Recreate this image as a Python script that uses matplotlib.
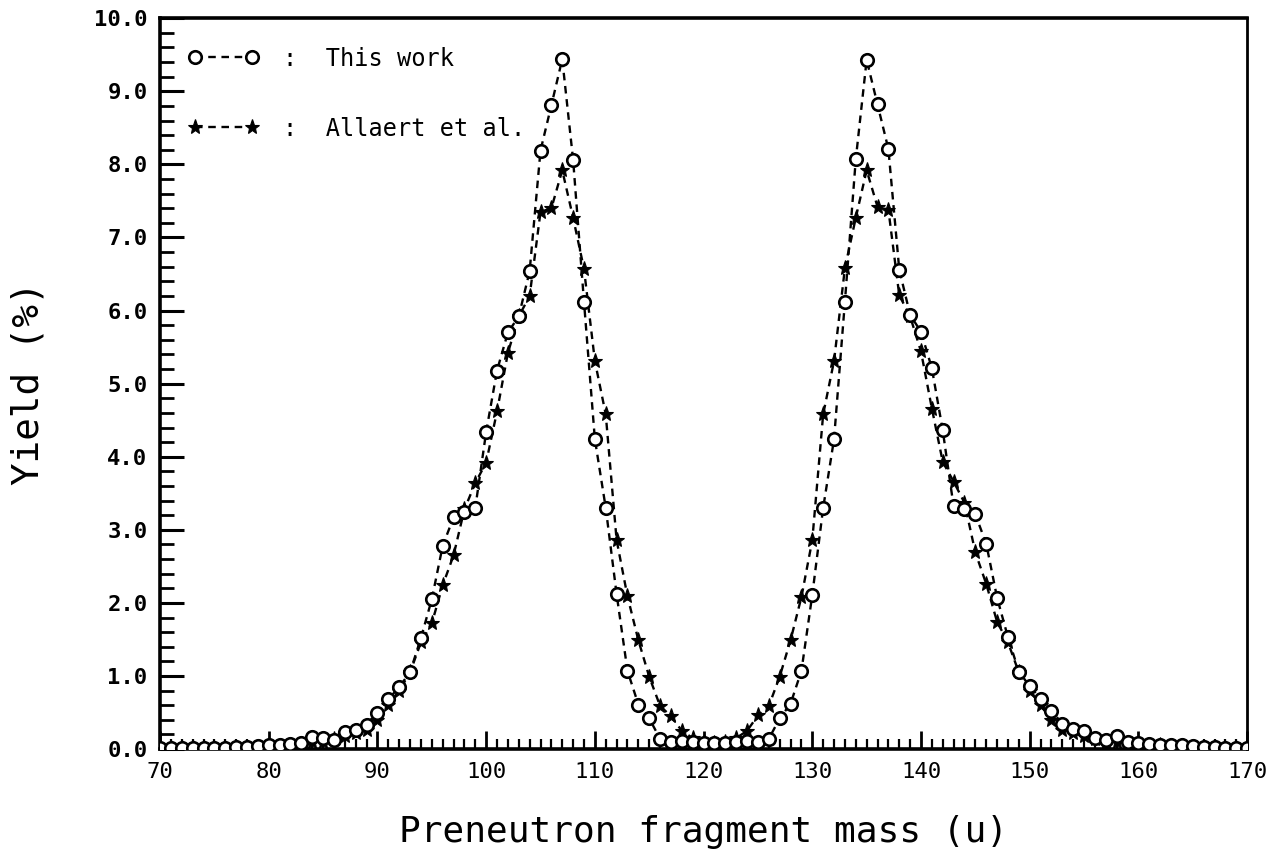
import numpy as np
import matplotlib
matplotlib.use("Agg")
import matplotlib.pyplot as plt
from matplotlib.ticker import MultipleLocator, FormatStrFormatter

# Preneutron fragment mass (u)
mass = np.arange(70, 171)

# Yield (%) -- this work
this_work = [
    0.01, 0.01, 0.01, 0.01, 0.02, 0.02, 0.02, 0.03, 0.03, 0.04,   # 70-79
    0.05, 0.05, 0.07, 0.09, 0.17, 0.15, 0.13, 0.23, 0.26, 0.33,   # 80-89
    0.50, 0.68, 0.85, 1.05, 1.52, 2.05, 2.78, 3.17, 3.24, 3.30,   # 90-99
    4.34, 5.18, 5.70, 5.92, 6.54, 8.19, 8.81, 9.44, 8.06, 6.12,   # 100-109
    4.24, 3.30, 2.12, 1.07, 0.61, 0.42, 0.14, 0.10, 0.11, 0.10,   # 110-119
    0.09, 0.08, 0.09, 0.10, 0.11, 0.10, 0.14, 0.42, 0.62, 1.07,   # 120-129
    2.11, 3.30, 4.24, 6.12, 8.07, 9.43, 8.82, 8.21, 6.56, 5.94,   # 130-139
    5.71, 5.21, 4.36, 3.32, 3.28, 3.21, 2.81, 2.07, 1.53, 1.06,   # 140-149
    0.86, 0.69, 0.52, 0.35, 0.27, 0.25, 0.15, 0.13, 0.18, 0.10,   # 150-159
    0.08, 0.07, 0.06, 0.05, 0.05, 0.04, 0.03, 0.03, 0.02, 0.02,   # 160-169
    0.02,                                                         # 170
]

# Yield (%) -- Allaert et al.
allaert = [
    0.01, 0.01, 0.01, 0.01, 0.01, 0.01, 0.01, 0.01, 0.02, 0.03,   # 70-79
    0.06, 0.04, 0.05, 0.07, 0.10, 0.10, 0.14, 0.18, 0.22, 0.26,   # 80-89
    0.40, 0.60, 0.80, 1.05, 1.46, 1.72, 2.24, 2.65, 3.28, 3.64,   # 90-99
    3.92, 4.62, 5.42, 5.92, 6.20, 7.35, 7.40, 7.92, 7.27, 6.57,   # 100-109
    5.31, 4.58, 2.86, 2.09, 1.49, 0.99, 0.59, 0.45, 0.25, 0.15,   # 110-119
    0.10, 0.08, 0.10, 0.15, 0.25, 0.46, 0.59, 0.99, 1.49, 2.08,   # 120-129
    2.86, 4.58, 5.31, 6.58, 7.27, 7.92, 7.42, 7.38, 6.21, 5.92,   # 130-139
    5.44, 4.66, 3.93, 3.66, 3.37, 2.69, 2.26, 1.74, 1.46, 1.05,   # 140-149
    0.80, 0.60, 0.40, 0.26, 0.22, 0.18, 0.14, 0.10, 0.10, 0.07,   # 150-159
    0.05, 0.04, 0.06, 0.03, 0.02, 0.01, 0.01, 0.01, 0.01, 0.01,   # 160-169
    0.01,                                                         # 170
]

x_ticks = [70, 80, 90, 100, 110, 120, 130, 140, 150, 160, 170]

font = "DejaVu Sans Mono"
plt.rcParams["font.family"] = [font, "DejaVu Sans"]

fig = plt.figure(figsize=(12.7, 8.68), dpi=100)
ax = fig.add_axes([0.126, 0.137, 0.856, 0.842])

dash = (0, (3.2, 2.4))
ax.plot(mass, this_work, color="black", linestyle=dash, linewidth=1.7,
        marker="o", markersize=9.0, markerfacecolor="white",
        markeredgecolor="black", markeredgewidth=1.9,
        label=":  This work", zorder=3)
ax.plot(mass, allaert, color="black", linestyle=dash, linewidth=1.7,
        marker="*", markersize=11, markerfacecolor="black",
        markeredgecolor="black", markeredgewidth=0.8,
        label=":  Allaert et al.", zorder=2)

ax.set_xlim(70, 170)
ax.set_ylim(0, 10)

ax.set_xticks(x_ticks)
ax.xaxis.set_minor_locator(MultipleLocator(1))
ax.yaxis.set_major_locator(MultipleLocator(1.0))
ax.yaxis.set_minor_locator(MultipleLocator(0.2))
ax.yaxis.set_major_formatter(FormatStrFormatter("%.1f"))

ax.tick_params(axis="both", which="both", direction="in", top=False, right=False,
               color="black")
ax.tick_params(axis="x", which="major", length=13, width=2.0, labelsize=16, pad=9)
ax.tick_params(axis="x", which="minor", length=7, width=1.6)
ax.tick_params(axis="y", which="major", length=17, width=2.2, labelsize=16, pad=9)
ax.tick_params(axis="y", which="minor", length=10, width=2.0)
for lab in ax.get_yticklabels():
    lab.set_fontweight("bold")

for side in ("left", "bottom", "top"):
    ax.spines[side].set_linewidth(2.6)
ax.spines["right"].set_linewidth(2.0)

ax.set_xlabel("Preneutron fragment mass (u)", fontsize=26, labelpad=24)
ax.set_ylabel("Yield (%)", fontsize=27, labelpad=34)

leg = ax.legend(loc="upper left", bbox_to_anchor=(0.0, 1.0), frameon=False,
                numpoints=2, handlelength=3.0, handletextpad=1.0,
                labelspacing=1.95, fontsize=17, borderaxespad=0.9,
                borderpad=0.3)

fig.savefig("out.png", dpi=100, facecolor="white")
